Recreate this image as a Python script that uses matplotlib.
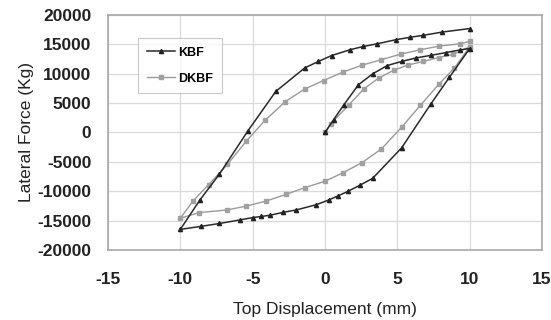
import matplotlib
matplotlib.use("Agg")
import matplotlib.pyplot as plt

# KBF: initial loading, unloading, reloading
kbf_x = [0, 0.6, 1.3, 2.3, 3.3, 4.3, 5.3, 6.3, 7.35, 8.35, 9.3, 10,
         8.6, 7.3, 5.3, 3.3, 2.4, 1.6, 0.9, 0.25, -0.6, -2.0, -2.9, -3.8, -4.4, -5.0, -5.9, -7.3, -8.6, -10,
         -8.65, -7.3, -5.35, -3.4, -1.4, -0.45, 0.45, 1.75, 2.65, 3.6, 4.9, 5.85, 6.8, 8.1, 10]
kbf_y = [0, 2200, 4700, 8100, 10000, 11400, 12100, 12700, 13150, 13600, 14050, 14300,
         9400, 4800, -2600, -7800, -9000, -10000, -10800, -11500, -12300, -13200, -13600, -14100, -14300, -14500, -14900, -15500, -16000, -16500,
         -11500, -7100, 200, 7000, 11000, 12100, 13100, 14100, 14650, 15100, 15800, 16200, 16550, 17100, 17700]

# DKBF: initial loading, unloading, reloading
dkbf_x = [0, 0.4, 1.65, 2.7, 3.7, 4.75, 5.75, 6.8, 7.85, 8.85, 10,
          8.95, 7.9, 6.6, 5.3, 3.9, 2.55, 1.25, 0, -1.4, -2.7, -4.1, -5.45, -6.8, -8.7, -10,
          -9.1, -8.05, -6.75, -5.45, -4.15, -2.75, -1.4, -0.1, 1.25, 2.55, 3.9, 5.25, 6.6, 7.9, 9.3, 10]
dkbf_y = [0, 1500, 4700, 7450, 9250, 10600, 11500, 12100, 12750, 13300, 14600,
          11000, 8300, 4650, 900, -2800, -5150, -6850, -8300, -9400, -10550, -11700, -12550, -13200, -13650, -14600,
          -11600, -8900, -5450, -1500, 2050, 5250, 7400, 8850, 10300, 11450, 12400, 13350, 14100, 14700, 15100, 15500]

x_ticks = [-15, -10, -5, 0, 5, 10, 15]
y_ticks = [-20000, -15000, -10000, -5000, 0, 5000, 10000, 15000, 20000]

plt.rcParams['font.family'] = ['Liberation Sans', 'DejaVu Sans']

fig = plt.figure(figsize=(5.51, 3.2), dpi=100)
ax = fig.add_axes([0.196, 0.219, 0.7877, 0.734])

ax.plot(dkbf_x, dkbf_y, color='#9a9a9a', lw=1.0, marker='s', ms=2.6, mfc='#a0a0a0', mec='#a0a0a0', label='DKBF', zorder=3)
ax.plot(kbf_x, kbf_y, color='#2a2a2a', lw=1.1, marker='^', ms=3.0, mfc='#222222', mec='#222222', label='KBF', zorder=4)

ax.set_xlim(-15, 15)
ax.set_ylim(-20000, 20000)
ax.set_xticks(x_ticks)
ax.set_yticks(y_ticks)
ax.set_xticklabels([str(v) for v in x_ticks], fontweight='bold', fontsize=12.5)
ax.set_yticklabels([str(v) for v in y_ticks], fontweight='bold', fontsize=12.5)
ax.tick_params(axis='x', length=0, pad=16, colors='#222222')
ax.tick_params(axis='y', length=0, pad=12, colors='#222222')
ax.grid(True, color='#dadada', lw=0.9)
ax.set_axisbelow(True)
for s in ax.spines.values():
    s.set_color('#a8a8a8')
    s.set_linewidth(1.2)

ax.set_xlabel('Top Displacement (mm)', fontsize=12.5, color='#222222', labelpad=11)
ax.set_ylabel('Lateral Force (Kg)', fontsize=12.5, color='#222222', labelpad=2)

h, l = ax.get_legend_handles_labels()
leg = ax.legend([h[1], h[0]], [l[1], l[0]], loc='upper left', bbox_to_anchor=(0.069, 0.902),
                fontsize=9, frameon=True, fancybox=False, edgecolor='#bbbbbb',
                handlelength=2.3, borderpad=0.7, labelspacing=1.1, handletextpad=0.2,
                borderaxespad=0)
for t in leg.get_texts():
    t.set_fontweight('bold')
leg.get_frame().set_linewidth(0.8)

fig.savefig('out.png', dpi=100)
